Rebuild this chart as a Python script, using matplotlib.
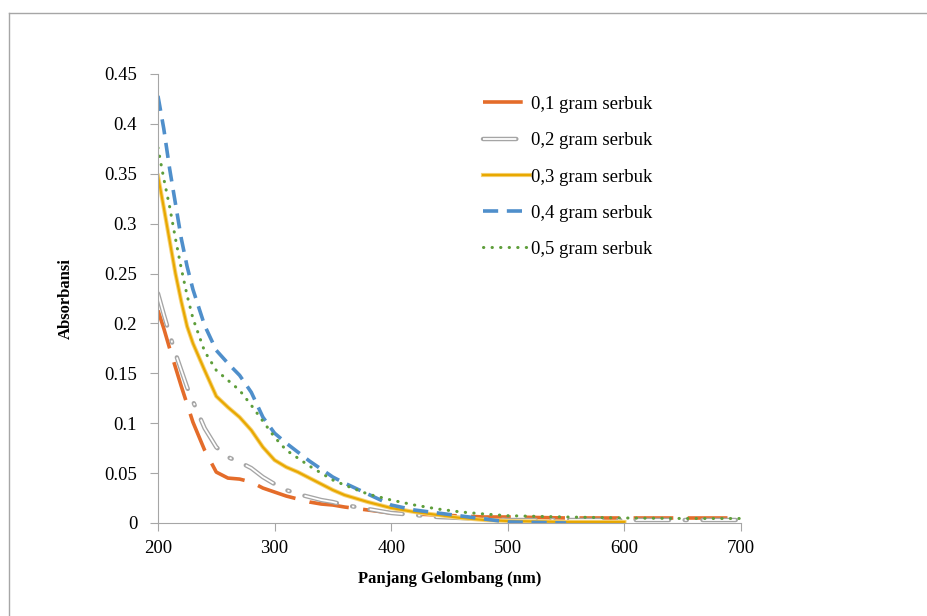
import matplotlib
matplotlib.use("Agg")
import matplotlib.pyplot as plt
from matplotlib.lines import Line2D
import numpy as np

plt.rcParams['font.family'] = ['Liberation Serif', 'DejaVu Serif']

# panjang gelombang (nm)
wl = [200, 205, 210, 215, 220, 225, 230, 240, 250, 260, 270, 280, 290, 300, 310,
      320, 330, 340, 350, 360, 380, 400, 420, 440, 460, 480, 500, 550, 600, 650, 700]

nan = np.nan
s01 = [0.213, 0.195, 0.175, 0.156, 0.137, 0.119, 0.101, 0.073, 0.051, 0.045, 0.044, 0.041,
       0.035, 0.031, 0.027, 0.024, 0.021, 0.019, 0.018, 0.016, 0.013, 0.010, 0.009, 0.008,
       0.007, 0.006, 0.006, 0.005, 0.005, 0.005, 0.005]
s02 = [0.230, 0.209, 0.189, 0.170, 0.153, 0.136, 0.122, 0.095, 0.076, 0.066, 0.061, 0.055,
       0.046, 0.039, 0.033, 0.029, 0.026, 0.023, 0.021, 0.018, 0.014, 0.010, 0.008, 0.006,
       0.005, 0.004, 0.003, 0.003, 0.003, 0.003, 0.003]
s03 = [0.348, 0.316, 0.283, 0.250, 0.222, 0.197, 0.180, 0.153, 0.127, 0.116, 0.106, 0.093,
       0.076, 0.063, 0.056, 0.051, 0.045, 0.039, 0.033, 0.028, 0.021, 0.015, 0.011, 0.008,
       0.005, 0.003, 0.002, 0.001, 0.001, nan, nan]
s04 = [0.428, 0.395, 0.355, 0.320, 0.285, 0.257, 0.234, 0.198, 0.173, 0.160, 0.148, 0.131,
       0.106, 0.090, 0.080, 0.071, 0.062, 0.054, 0.046, 0.040, 0.029, 0.018, 0.013, 0.010,
       0.007, 0.004, 0.001, 0.000, nan, nan, nan]
s05 = [0.376, 0.345, 0.317, 0.285, 0.255, 0.228, 0.205, 0.172, 0.153, 0.143, 0.133, 0.118,
       0.102, 0.086, 0.073, 0.065, 0.057, 0.050, 0.043, 0.038, 0.029, 0.023, 0.018, 0.014,
       0.011, 0.009, 0.0073, 0.006, 0.005, 0.0045, 0.0045]

labels = ['0,1 gram serbuk', '0,2 gram serbuk', '0,3 gram serbuk',
          '0,4 gram serbuk', '0,5 gram serbuk']
yticks = [0, 0.05, 0.1, 0.15, 0.2, 0.25, 0.3, 0.35, 0.4, 0.45]
xticks = [200, 300, 400, 500, 600, 700]

fig = plt.figure(figsize=(9.27, 6.16), dpi=100)
ax = fig.add_axes([0.1704, 0.151, 0.629, 0.729])

# garis bingkai chart
fig.add_artist(Line2D([0.0097, 0.0097], [0, 0.979], color='#A6A6A6', lw=1))
fig.add_artist(Line2D([0.0097, 1], [0.979, 0.979], color='#A6A6A6', lw=1))

l1, = ax.plot(wl, s01, color='#E46C2A', lw=2.6, dashes=(11, 4))
g = 3.2 / 1.3
l2a, = ax.plot(wl, s02, color='#A5A5A5', lw=3.2, dashes=(7.5, 3.5, 0.5, 3.5), dash_capstyle='round')
l2b, = ax.plot(wl, s02, color='white', lw=1.3, dashes=(7.5 * g, 3.5 * g, 0.5 * g, 3.5 * g))
l3a, = ax.plot(wl, s03, color='#F6D37A', lw=3.0)
l3b, = ax.plot(wl, s03, color='#E8A800', lw=1.6)
l4, = ax.plot(wl, s04, color='#4F8FCB', lw=2.6, dashes=(4.2, 2.4))
l5, = ax.plot(wl, s05, color='#5E9E3A', lw=2.2, dashes=(0.1, 2.7), dash_capstyle='round')

ax.set_xlim(200, 700)
ax.set_ylim(0, 0.45)
ax.set_xticks(xticks)
ax.set_yticks(yticks)
ax.set_yticklabels(['%g' % v for v in yticks])

for s in ['top', 'right']:
    ax.spines[s].set_visible(False)
for s in ['left', 'bottom']:
    ax.spines[s].set_color('#A6A6A6')
ax.tick_params(axis='both', colors='#A6A6A6', labelcolor='black', labelsize=13.5, length=6)
ax.tick_params(axis='y', pad=9)
ax.tick_params(axis='x', pad=6)

ax.set_xlabel('Panjang Gelombang (nm)', fontsize=12, fontweight='bold', labelpad=10)
ax.set_ylabel('Absorbansi', fontsize=12, fontweight='bold', labelpad=22)

ax.legend([l1, (l2a, l2b), (l3a, l3b), l4, l5], labels, loc='upper left',
          bbox_to_anchor=(0.557, 0.951), frameon=False, fontsize=13.5,
          handlelength=2.5, handletextpad=0.05, labelspacing=1.02,
          borderpad=0, borderaxespad=0)

fig.savefig('out.png', dpi=100)
